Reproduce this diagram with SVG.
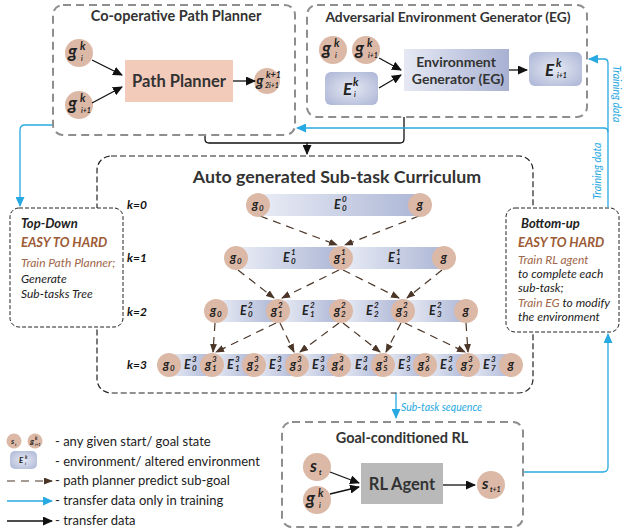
<svg xmlns="http://www.w3.org/2000/svg" width="628" height="529" viewBox="0 0 628 529">
<defs>
<style>
text{font-family:Lato,"Open Sans","Liberation Sans",sans-serif}
.title{font-weight:bold;fill:#333;text-anchor:middle}
.nd{fill:#dcb9a7}
.gb{fill:none;stroke:#8e8e8e;stroke-width:2;stroke-dasharray:8 5}
.bk{fill:none;stroke:#111;stroke-width:1.3}
.bl{fill:none;stroke:#29a9e1;stroke-width:1.3}
.dd{fill:none;stroke:#4b3628;stroke-width:1.2;stroke-dasharray:8 6}
.lb{font-style:italic;font-weight:bold;fill:#222}
.bar{fill:url(#barG)}
.ebox{fill:url(#eG)}
.k{font-style:italic;font-weight:bold;font-size:12px;fill:#111}
.it{font-style:italic;font-size:12px;fill:#222}
.br{font-style:italic;font-size:12px;fill:#a0674a}
.hd{font-style:italic;font-weight:bold;font-size:13px;fill:#9c5a36}
.lg{font-size:13px;fill:#222}
.btxt{font-style:italic;font-size:10.5px;fill:#29a9e1}
</style>
<linearGradient id="barG" x1="0" y1="0" x2="1" y2="0">
<stop offset="0" stop-color="#eaedf6"/><stop offset="1" stop-color="#adb7d6"/>
</linearGradient>
<linearGradient id="egG" x1="0" y1="0" x2="1" y2="0">
<stop offset="0" stop-color="#e6e9f4"/><stop offset="1" stop-color="#a8b1d2"/>
</linearGradient>
<radialGradient id="eG" cx="0.5" cy="0.5" r="0.65">
<stop offset="0" stop-color="#e6e9f3"/><stop offset="1" stop-color="#aeb8d7"/>
</radialGradient>
<marker id="ab" markerUnits="userSpaceOnUse" markerWidth="10" markerHeight="9" refX="9" refY="4.5" orient="auto"><path d="M0,0 L10,4.5 L0,9 z" fill="#111"/></marker>
<marker id="au" markerUnits="userSpaceOnUse" markerWidth="10" markerHeight="9" refX="9" refY="4.5" orient="auto"><path d="M0,0 L10,4.5 L0,9 z" fill="#29a9e1"/></marker>
<marker id="ad" markerUnits="userSpaceOnUse" markerWidth="9" markerHeight="7" refX="8" refY="3.5" orient="auto"><path d="M0,0 L9,3.5 L0,7 z" fill="#4b3628"/></marker>
</defs>
<rect width="628" height="529" fill="#fff"/>

<!-- connectors -->
<g id="connectors">
<path class="bk" d="M205,135 V139 Q205,143 209,143 H307 V154" marker-end="url(#ab)"/>
<path class="bk" d="M404,117 V139 Q404,143 400,143 H307"/>
<path class="bl" d="M608,207 V63 Q608,59 604,59 H589" marker-end="url(#au)"/>
<path class="bl" d="M608,132 Q608,128 604,128 H297" marker-end="url(#au)"/>
<path class="bl" d="M52,125 H25 Q20,125 20,130 V206" marker-end="url(#au)"/>
<path class="bl" d="M523,472 H603 Q608,472 608,467 V334" marker-end="url(#au)"/>
<path class="bl" d="M396,393 V418" marker-end="url(#au)"/>
<text class="btxt" transform="translate(613,94) rotate(90)" text-anchor="middle">Training data</text>
<text class="btxt" transform="translate(601,171) rotate(-90)" text-anchor="middle">Training data</text>
<text class="btxt" x="401" y="411">Sub-task sequence</text>
</g>

<!-- Co-operative Path Planner -->
<g id="coop">
<rect class="gb" x="53" y="5" width="242" height="130" rx="10"/>
<text class="title" x="176" y="21" font-size="14.5">Co-operative Path Planner</text>
<circle class="nd" cx="79" cy="53" r="14"/>
<text class="lb" x="68" y="58" font-size="18">g<tspan x="80" y="50" font-size="11">k</tspan><tspan x="81" y="61" font-size="7">i</tspan></text>
<circle class="nd" cx="79" cy="105" r="14"/>
<text class="lb" x="68" y="110" font-size="18">g<tspan x="80" y="102" font-size="11">k</tspan><tspan x="81" y="113" font-size="7">i+1</tspan></text>
<rect x="125" y="60" width="108" height="42" fill="#f2cbbb"/>
<text class="title" x="179" y="87" font-size="16.5">Path Planner</text>
<circle class="nd" cx="267" cy="81" r="13"/>
<text class="lb" x="256" y="86" font-size="15">g<tspan x="266" y="78" font-size="9">k+1</tspan><tspan x="265" y="88" font-size="7">2i+1</tspan></text>
<path class="bk" d="M92,60 L122,75" marker-end="url(#ab)"/>
<path class="bk" d="M92,103 L122,87" marker-end="url(#ab)"/>
<path class="bk" d="M233,81 L255,81" marker-end="url(#ab)"/>
</g>

<!-- Adversarial EG -->
<g id="eg">
<rect class="gb" x="307" y="5" width="280" height="112" rx="10"/>
<text class="title" x="448" y="22" font-size="13.8">Adversarial Environment Generator (EG)</text>
<circle class="nd" cx="333" cy="50" r="14"/>
<text class="lb" x="322" y="55" font-size="18">g<tspan x="334" y="47" font-size="11">k</tspan><tspan x="335" y="58" font-size="7">i</tspan></text>
<circle class="nd" cx="366" cy="50" r="14"/>
<text class="lb" x="355" y="55" font-size="18">g<tspan x="367" y="47" font-size="11">k</tspan><tspan x="368" y="58" font-size="7">i+1</tspan></text>
<rect class="ebox" x="325" y="72" width="53" height="33" rx="6"/>
<text class="lb" x="343" y="95" font-size="17">E<tspan x="353" y="86" font-size="11">k</tspan><tspan x="354" y="97" font-size="7">i</tspan></text>
<rect x="404" y="49" width="105" height="42" fill="url(#egG)"/>
<text class="title" x="456" y="67" font-size="14">Environment</text>
<text class="title" x="458" y="84" font-size="14">Generator (EG)</text>
<rect class="ebox" x="529" y="52" width="53" height="34" rx="6"/>
<text class="lb" x="545" y="76" font-size="17">E<tspan x="556" y="67" font-size="11">k</tspan><tspan x="557" y="78" font-size="7">i+1</tspan></text>
<path class="bk" d="M379,58 L401,70" marker-end="url(#ab)"/>
<path class="bk" d="M379,88 L401,75" marker-end="url(#ab)"/>
<path class="bk" d="M509,70 L527,70" marker-end="url(#ab)"/>
</g>

<!-- Curriculum -->
<g id="curriculum">
<rect x="97" y="156" width="436" height="237" rx="14" fill="none" stroke="#222" stroke-width="1.2" stroke-dasharray="6 3"/>
<text class="title" x="337" y="183" font-size="17.8" fill="#222">Auto generated Sub-task Curriculum</text>
<text class="k" x="127" y="209">k=0</text>
<text class="k" x="127" y="262">k=1</text>
<text class="k" x="127" y="316">k=2</text>
<text class="k" x="127" y="369">k=3</text>

<rect class="bar" x="258" y="194" width="162" height="22"/>
<rect class="bar" x="236" y="247" width="105" height="22"/>
<rect class="bar" x="341" y="247" width="103" height="22"/>
<rect class="bar" x="216" y="300" width="62" height="22"/>
<rect class="bar" x="278" y="300" width="63" height="22"/>
<rect class="bar" x="341" y="300" width="62" height="22"/>
<rect class="bar" x="403" y="300" width="63" height="22"/>
<rect class="bar" x="169" y="354" width="43" height="22"/>
<rect class="bar" x="212" y="354" width="42" height="22"/>
<rect class="bar" x="254" y="354" width="43" height="22"/>
<rect class="bar" x="297" y="354" width="42" height="22"/>
<rect class="bar" x="339" y="354" width="44" height="22"/>
<rect class="bar" x="383" y="354" width="42" height="22"/>
<rect class="bar" x="425" y="354" width="43" height="22"/>
<rect class="bar" x="468" y="354" width="43" height="22"/>

<path class="dd" d="M260,216 L337,245" marker-end="url(#ad)"/>
<path class="dd" d="M419,216 L345,245" marker-end="url(#ad)"/>
<path class="dd" d="M238,270 L274,298" marker-end="url(#ad)"/>
<path class="dd" d="M339,270 L282,298" marker-end="url(#ad)"/>
<path class="dd" d="M343,270 L399,298" marker-end="url(#ad)"/>
<path class="dd" d="M442,270 L407,298" marker-end="url(#ad)"/>
<path class="dd" d="M215,323 L213,352" marker-end="url(#ad)"/>
<path class="dd" d="M276,323 L216,352" marker-end="url(#ad)"/>
<path class="dd" d="M280,323 L294,352" marker-end="url(#ad)"/>
<path class="dd" d="M339,323 L300,352" marker-end="url(#ad)"/>
<path class="dd" d="M343,323 L380,352" marker-end="url(#ad)"/>
<path class="dd" d="M401,323 L386,352" marker-end="url(#ad)"/>
<path class="dd" d="M405,323 L465,352" marker-end="url(#ad)"/>
<path class="dd" d="M466,323 L468,352" marker-end="url(#ad)"/>

<circle class="nd" cx="258" cy="205" r="12"/>
<text class="lb" x="252" y="209" font-size="12.5">g<tspan x="259" y="211" font-size="8">0</tspan></text>
<circle class="nd" cx="420" cy="205" r="12"/>
<text class="lb" x="420" y="209" font-size="12.5" text-anchor="middle">g</text>
<text class="lb" x="334" y="209" font-size="12.5">E<tspan x="342" y="202" font-size="8">0</tspan><tspan x="342" y="211" font-size="8">0</tspan></text>

<circle class="nd" cx="236" cy="258" r="12"/>
<text class="lb" x="230" y="262" font-size="12.5">g<tspan x="237" y="264" font-size="8">0</tspan></text>
<circle class="nd" cx="341" cy="258" r="12"/>
<text class="lb" x="334" y="262" font-size="12.5">g<tspan x="341" y="255" font-size="8">1</tspan><tspan x="341" y="264" font-size="8">1</tspan></text>
<circle class="nd" cx="444" cy="258" r="12"/>
<text class="lb" x="444" y="262" font-size="12.5" text-anchor="middle">g</text>
<text class="lb" x="283" y="262" font-size="12.5">E<tspan x="291" y="255" font-size="8">1</tspan><tspan x="291" y="264" font-size="8">0</tspan></text>
<text class="lb" x="388" y="262" font-size="12.5">E<tspan x="396" y="255" font-size="8">1</tspan><tspan x="396" y="264" font-size="8">1</tspan></text>

<circle class="nd" cx="216" cy="311" r="12"/>
<text class="lb" x="210" y="315" font-size="12.5">g<tspan x="217" y="317" font-size="8">0</tspan></text>
<circle class="nd" cx="278" cy="311" r="12"/>
<text class="lb" x="271" y="315" font-size="12.5">g<tspan x="278" y="308" font-size="8">2</tspan><tspan x="278" y="317" font-size="8">1</tspan></text>
<circle class="nd" cx="341" cy="311" r="12"/>
<text class="lb" x="334" y="315" font-size="12.5">g<tspan x="341" y="308" font-size="8">2</tspan><tspan x="341" y="317" font-size="8">2</tspan></text>
<circle class="nd" cx="403" cy="311" r="12"/>
<text class="lb" x="396" y="315" font-size="12.5">g<tspan x="403" y="308" font-size="8">2</tspan><tspan x="403" y="317" font-size="8">3</tspan></text>
<circle class="nd" cx="466" cy="311" r="12"/>
<text class="lb" x="466" y="315" font-size="12.5" text-anchor="middle">g</text>
<text class="lb" x="240" y="315" font-size="12.5">E<tspan x="248" y="308" font-size="8">2</tspan><tspan x="248" y="317" font-size="8">0</tspan></text>
<text class="lb" x="302" y="315" font-size="12.5">E<tspan x="310" y="308" font-size="8">2</tspan><tspan x="310" y="317" font-size="8">1</tspan></text>
<text class="lb" x="366" y="315" font-size="12.5">E<tspan x="374" y="308" font-size="8">2</tspan><tspan x="374" y="317" font-size="8">2</tspan></text>
<text class="lb" x="429" y="315" font-size="12.5">E<tspan x="437" y="308" font-size="8">2</tspan><tspan x="437" y="317" font-size="8">3</tspan></text>

<circle class="nd" cx="169" cy="365" r="12"/>
<text class="lb" x="163" y="369" font-size="12.5">g<tspan x="170" y="371" font-size="8">0</tspan></text>
<circle class="nd" cx="212" cy="365" r="12"/>
<text class="lb" x="205" y="369" font-size="12.5">g<tspan x="212" y="362" font-size="8">3</tspan><tspan x="212" y="371" font-size="8">1</tspan></text>
<circle class="nd" cx="254" cy="365" r="12"/>
<text class="lb" x="247" y="369" font-size="12.5">g<tspan x="254" y="362" font-size="8">3</tspan><tspan x="254" y="371" font-size="8">2</tspan></text>
<circle class="nd" cx="297" cy="365" r="12"/>
<text class="lb" x="290" y="369" font-size="12.5">g<tspan x="297" y="362" font-size="8">3</tspan><tspan x="297" y="371" font-size="8">3</tspan></text>
<circle class="nd" cx="339" cy="365" r="12"/>
<text class="lb" x="332" y="369" font-size="12.5">g<tspan x="339" y="362" font-size="8">3</tspan><tspan x="339" y="371" font-size="8">4</tspan></text>
<circle class="nd" cx="383" cy="365" r="12"/>
<text class="lb" x="376" y="369" font-size="12.5">g<tspan x="383" y="362" font-size="8">3</tspan><tspan x="383" y="371" font-size="8">5</tspan></text>
<circle class="nd" cx="425" cy="365" r="12"/>
<text class="lb" x="418" y="369" font-size="12.5">g<tspan x="425" y="362" font-size="8">3</tspan><tspan x="425" y="371" font-size="8">6</tspan></text>
<circle class="nd" cx="468" cy="365" r="12"/>
<text class="lb" x="461" y="369" font-size="12.5">g<tspan x="468" y="362" font-size="8">3</tspan><tspan x="468" y="371" font-size="8">7</tspan></text>
<circle class="nd" cx="511" cy="365" r="12"/>
<text class="lb" x="511" y="369" font-size="12.5" text-anchor="middle">g</text>
<text class="lb" x="184" y="369" font-size="12.5">E<tspan x="192" y="362" font-size="8">3</tspan><tspan x="192" y="371" font-size="8">0</tspan></text>
<text class="lb" x="227" y="369" font-size="12.5">E<tspan x="235" y="362" font-size="8">3</tspan><tspan x="235" y="371" font-size="8">1</tspan></text>
<text class="lb" x="269" y="369" font-size="12.5">E<tspan x="277" y="362" font-size="8">3</tspan><tspan x="277" y="371" font-size="8">2</tspan></text>
<text class="lb" x="312" y="369" font-size="12.5">E<tspan x="320" y="362" font-size="8">3</tspan><tspan x="320" y="371" font-size="8">3</tspan></text>
<text class="lb" x="355" y="369" font-size="12.5">E<tspan x="363" y="362" font-size="8">3</tspan><tspan x="363" y="371" font-size="8">4</tspan></text>
<text class="lb" x="398" y="369" font-size="12.5">E<tspan x="406" y="362" font-size="8">3</tspan><tspan x="406" y="371" font-size="8">5</tspan></text>
<text class="lb" x="440" y="369" font-size="12.5">E<tspan x="448" y="362" font-size="8">3</tspan><tspan x="448" y="371" font-size="8">6</tspan></text>
<text class="lb" x="483" y="369" font-size="12.5">E<tspan x="491" y="362" font-size="8">3</tspan><tspan x="491" y="371" font-size="8">7</tspan></text>
</g>

<!-- Top-Down -->
<g id="topdown">
<rect x="10" y="208" width="113" height="119" rx="9" fill="#fff" stroke="#222" stroke-width="1" stroke-dasharray="4 2"/>
<text class="lb" x="21" y="228" font-size="13" fill="#111">Top-Down</text>
<text class="hd" x="21" y="247">EASY TO HARD</text>
<text class="br" x="21" y="267">Train Path Planner;</text>
<text class="it" x="21" y="283">Generate</text>
<text class="it" x="21" y="298">Sub-tasks Tree</text>
</g>

<!-- Bottom-up -->
<g id="bottomup">
<rect x="506" y="208" width="113" height="124" rx="9" fill="#fff" stroke="#222" stroke-width="1" stroke-dasharray="4 2"/>
<text class="lb" x="521" y="228" font-size="13" fill="#111">Bottom-up</text>
<text class="hd" x="518" y="247">EASY TO HARD</text>
<text class="br" x="518" y="264">Train RL agent</text>
<text class="it" x="518" y="278">to complete each</text>
<text class="it" x="518" y="292">sub-task;</text>
<text class="it" x="518" y="307"><tspan fill="#a0674a">Train EG</tspan> to modify</text>
<text class="it" x="518" y="321">the environment</text>
</g>

<!-- Goal-conditioned RL -->
<g id="gcrl">
<rect class="gb" x="282" y="422" width="241" height="105" rx="10"/>
<text class="title" x="402" y="443" font-size="14.5">Goal-conditioned RL</text>
<circle class="nd" cx="317" cy="467" r="14"/>
<text class="lb" x="310" y="472" font-size="17">s<tspan x="319" y="475" font-size="7">t</tspan></text>
<circle class="nd" cx="317" cy="500" r="14"/>
<text class="lb" x="306" y="505" font-size="18">g<tspan x="318" y="497" font-size="11">k</tspan><tspan x="319" y="508" font-size="7">i</tspan></text>
<rect x="361" y="463" width="82" height="41" fill="#b9b9b9"/>
<text class="title" x="402" y="490" font-size="16.5">RL Agent</text>
<circle class="nd" cx="491" cy="485" r="14"/>
<text class="lb" x="482" y="489" font-size="16">s<tspan x="490" y="492" font-size="7">t+1</tspan></text>
<path class="bk" d="M330,472 L359,483" marker-end="url(#ab)"/>
<path class="bk" d="M330,494 L359,487" marker-end="url(#ab)"/>
<path class="bk" d="M443,485 L475,485" marker-end="url(#ab)"/>
</g>

<!-- Legend -->
<g id="legend">
<circle class="nd" cx="14" cy="441" r="7.5"/>
<text class="lb" x="11" y="444" font-size="8">s<tspan x="15" y="446" font-size="4">t</tspan></text>
<circle class="nd" cx="35" cy="441" r="7.5"/>
<text class="lb" x="30" y="444" font-size="8">g<tspan x="35" y="440" font-size="5">k</tspan><tspan x="35" y="446" font-size="4">i+1</tspan></text>
<text class="lg" x="55" y="446">- any given start/ goal state</text>
<rect class="ebox" x="10" y="451" width="27" height="18" rx="5"/>
<text class="lb" x="19" y="463" font-size="8">E<tspan x="25" y="459" font-size="5">k</tspan><tspan x="25" y="465" font-size="4">i</tspan></text>
<text class="lg" x="55" y="466">- environment/ altered environment</text>
<path class="dd" d="M7,481 L52,481" stroke-dasharray="5 7" marker-end="url(#ad)"/>
<text class="lg" x="55" y="485">- path planner predict sub-goal</text>
<path class="bl" d="M7,501 L52,501" marker-end="url(#au)"/>
<text class="lg" x="55" y="505">- transfer data only in training</text>
<path class="bk" d="M7,521 L52,521" marker-end="url(#ab)"/>
<text class="lg" x="55" y="525">- transfer data</text>
</g>
</svg>
